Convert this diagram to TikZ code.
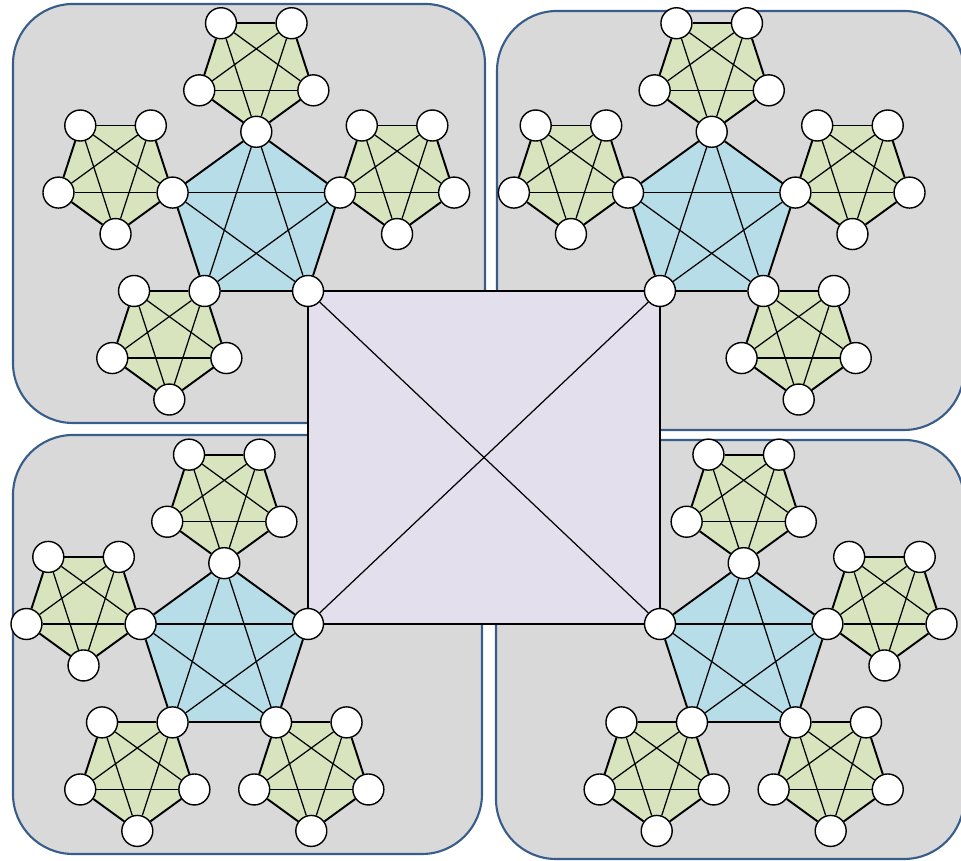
\documentclass[tikz,border=0pt]{standalone}
\usepackage{tikz}
\usetikzlibrary{calc, backgrounds}
\definecolor{cGray}{RGB}{217,217,217}
\definecolor{cEdge}{RGB}{56,93,138}
\definecolor{cBlue}{RGB}{183,221,232}
\definecolor{cGreen}{RGB}{215,228,189}
\definecolor{cLilac}{RGB}{228,223,236}

% five vertices round a centre coordinate, skipping the one shared with the core
\newcommand{\ring}[4]{%
  \foreach \k in {1,...,5}{%
    \ifnum\k=#4\relax\else
      \node[vert] (#1-\k) at ($(#1)+({#2+72*(\k-1)}:#3)$) {};
    \fi}%
}
% complete graph on the five vertices
\newcommand{\kfive}[2]{%
  \begin{scope}[on background layer]
    \fill[#2] (#1-1.center) -- (#1-2.center) -- (#1-3.center) -- (#1-4.center) -- (#1-5.center) -- cycle;
  \end{scope}
  \foreach \i/\j in {1/2,2/3,3/4,4/5,5/1} \draw[rim] (#1-\i) -- (#1-\j);
  \foreach \i/\j in {1/3,1/4,2/4,2/5,3/5} \draw[chord] (#1-\i) -- (#1-\j);
}

\begin{document}
\begin{tikzpicture}[x=0.02cm, y=0.02cm]

    \tikzstyle{quad} = [draw=cEdge, line width=1.2pt, fill=cGray, rounded corners=1.2cm]
    \tikzstyle{vert} = [circle, draw, fill=white, line width=0.8pt, minimum size=0.62cm, inner sep=0pt]
    \tikzstyle{rim} = [line width=1.1pt]
    \tikzstyle{chord} = [line width=0.7pt]
    \tikzstyle{hub} = [line width=1pt]

    \useasboundingbox (0,0) rectangle (961,861);

    % Quadrant panels
    \begin{scope}[on background layer]
        \path[quad] (13,857) rectangle (485,438);
        \path[quad] (497,850) rectangle (964,431);
        \path[quad] (13,426) rectangle (482,7);
        \path[quad] (496,421) rectangle (964,2);
    \end{scope}

    % Blue cores
    \foreach \q/\x/\y in {tl/256.3/641.2, tr/711.7/641.2, bl/224.3/209.8, br/743.7/209.8}{
        \coordinate (\q) at (\x,\y);
        \foreach \k in {1,...,5}
            \node[vert, alias=\q\k-\k] (\q-\k) at ($(\q)+({90+72*(\k-1)}:88)$) {};
    }

    % Green leaves (hung on a core vertex)
    \foreach \q/\v in {tl/1,tl/2,tl/5,tl/3, tr/1,tr/2,tr/5,tr/4, bl/1,bl/2,bl/3,bl/4, br/1,br/5,br/3,br/4}{
        \coordinate (\q\v) at ($(\q-\v)-({270+72*(\v-1)}:60)$);
        \ring{\q\v}{270}{60}{\v}
    }

    % Central square
    \begin{scope}[on background layer]
        \fill[cLilac] (tl-4.center) -- (tr-3.center) -- (br-2.center) -- (bl-5.center) -- cycle;
    \end{scope}
    \draw[hub] (tl-4) -- (tr-3);
    \draw[hub] (tr-3) -- (br-2);
    \draw[hub] (br-2) -- (bl-5);
    \draw[hub] (bl-5) -- (tl-4);
    \draw[chord] (tl-4) -- (br-2);
    \draw[chord] (tr-3) -- (bl-5);

    % Cores and leaves
    \foreach \q in {tl,tr,bl,br}{
        \kfive{\q}{cBlue}
    }
    \foreach \q/\v in {tl/1,tl/2,tl/5,tl/3, tr/1,tr/2,tr/5,tr/4, bl/1,bl/2,bl/3,bl/4, br/1,br/5,br/3,br/4}{
        \kfive{\q\v}{cGreen}
    }
\end{tikzpicture}
\end{document}
